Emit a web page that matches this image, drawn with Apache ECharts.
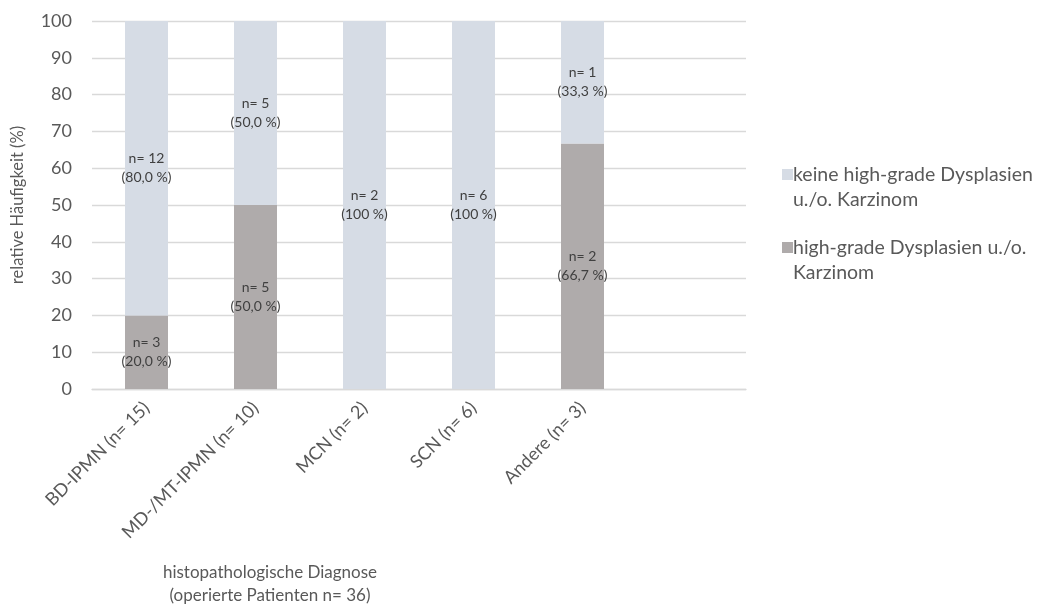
<!DOCTYPE html>
<html>
<head>
<meta charset="utf-8">
<script src="https://cdn.jsdelivr.net/npm/echarts@6/dist/echarts.min.js"></script>
<style>
  html, body { margin: 0; padding: 0; background: #ffffff; }
  #chart { width: 1039px; height: 606px; }
</style>
</head>
<body>
<div id="chart"></div>
<script>
// Diagnosis groups (last slot left empty)
const categories = ['BD-IPMN (n= 15)', 'MD-/MT-IPMN (n= 10)', 'MCN (n= 2)', 'SCN (n= 6)', 'Andere (n= 3)', ''];
const yTicks = [0, 10, 20, 30, 40, 50, 60, 70, 80, 90, 100];

const nameHigh = 'high-grade Dysplasien u./o.\nKarzinom';
const nameNone = 'keine high-grade Dysplasien\nu./o. Karzinom';

// relative frequency (%) per group
const pctHigh = [20.0, 50.0, 0, 0, 66.7, null];
const pctNone = [80.0, 50.0, 100, 100, 33.3, null];

// absolute counts per group
const countHigh = [3, 5, 0, 0, 2, null];
const countNone = [12, 5, 2, 6, 1, null];

const FONT = 'Lato';
const colHigh = '#AFABAB';
const colNone = '#D6DCE5';

function labelText(counts) {
  return function (p) {
    const n = counts[p.dataIndex];
    if (!n) return '';
    const v = p.value;
    const pct = v === 100 ? '100' : v.toFixed(1).replace('.', ',');
    return 'n= ' + n + '\n(' + pct + ' %)';
  };
}

const barLabel = {
  show: true,
  position: 'inside',
  color: '#404040',
  fontFamily: FONT,
  fontSize: 14,
  lineHeight: 19
};

// legend marker: square sitting beside the first text line
const legendIcon = 'path://M0,0h0.01v0.01h-0.01z M0,7h11v11h-11z M0,49.99h0.01v0.01h-0.01z';

const chart = echarts.init(document.getElementById('chart'), null, { renderer: 'canvas' });
chart.setOption({
  animation: false,
  backgroundColor: '#ffffff',
  textStyle: { fontFamily: FONT },
  grid: { left: 92, right: 293, top: 21, bottom: 217, containLabel: false },
  legend: {
    orient: 'vertical',
    left: 777,
    top: 157,
    itemWidth: 11,
    itemHeight: 50,
    itemGap: 23,
    icon: legendIcon,
    data: [nameNone, nameHigh],
    textStyle: { color: '#595959', fontSize: 19.5, lineHeight: 25, fontFamily: FONT, padding: [0, 0, 0, -5] }
  },
  xAxis: {
    type: 'category',
    data: categories,
    axisTick: { show: false },
    axisLine: { lineStyle: { color: '#D9D9D9', width: 1.3 } },
    axisLabel: {
      interval: 0,
      rotate: 45,
      color: '#595959',
      fontSize: 18,
      fontFamily: FONT,
      margin: 16
    }
  },
  yAxis: {
    type: 'value',
    min: 0,
    max: 100,
    interval: 10,
    name: 'relative Häufigkeit (%)',
    nameLocation: 'middle',
    nameGap: 66,
    nameTextStyle: { color: '#595959', fontSize: 16.5, fontFamily: FONT },
    axisLine: { show: false },
    axisTick: { show: false },
    axisLabel: {
      color: '#595959',
      fontSize: 18,
      fontFamily: FONT,
      margin: 20,
      formatter: function (v) { return yTicks.indexOf(v) >= 0 ? String(v) : ''; }
    },
    splitLine: { lineStyle: { color: '#D9D9D9', width: 1.3 } }
  },
  series: [
    {
      name: nameHigh,
      type: 'bar',
      stack: 'total',
      data: pctHigh,
      barWidth: 43,
      itemStyle: { color: colHigh },
      label: Object.assign({ formatter: labelText(countHigh) }, barLabel)
    },
    {
      name: nameNone,
      type: 'bar',
      stack: 'total',
      data: pctNone,
      barWidth: 43,
      itemStyle: { color: colNone },
      label: Object.assign({ formatter: labelText(countNone) }, barLabel)
    }
  ],
  graphic: [
    {
      type: 'text',
      x: 270,
      y: 561,
      style: {
        text: 'histopathologische Diagnose\n(operierte Patienten n= 36)',
        fill: '#595959',
        fontSize: 17,
        fontFamily: FONT,
        lineHeight: 23,
        align: 'center',
        verticalAlign: 'top'
      }
    }
  ]
});
</script>
</body>
</html>
